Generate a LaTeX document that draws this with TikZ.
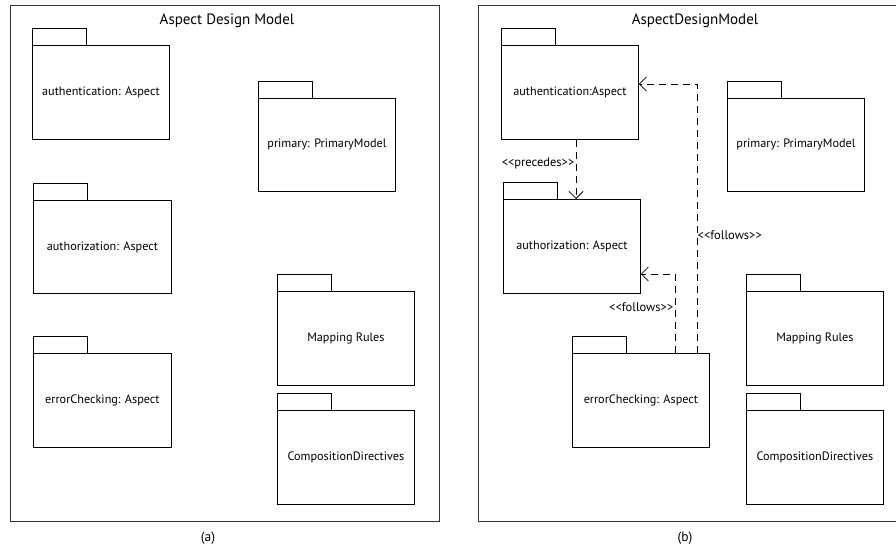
\documentclass[tikz,border=0pt]{standalone}
\usepackage{fontspec}
\setmainfont{PT Sans}[Ligatures=TeXOff]
\usetikzlibrary{arrows.meta}
\newcommand\pkgbox[6]{%
  \node[pkg, minimum width=#4pt, minimum height=#5pt] (#1) at (#2,#3) {#6};
  \draw[pkgline] (#1.north west) rectangle ++(54,-17);}
\begin{document}
\begin{tikzpicture}[x=1pt,y=-1pt,
  pkg/.style={draw, line width=0.8pt, inner sep=0pt, anchor=north west, font=\fontsize{12.2}{14}\selectfont},
  pkgline/.style={draw, line width=0.8pt},
  frame/.style={draw, line width=1pt, color=black!80, inner sep=0pt, anchor=north west},
  title/.style={font=\fontsize{15}{17}\selectfont, inner sep=0pt},
  dep/.style={draw, line width=0.8pt, dash pattern=on 7pt off 5pt, -{Straight Barb[length=7pt,width=14pt,line width=0.8pt]}},
  lbl/.style={font=\fontsize{12.5}{14}\selectfont, inner sep=0.5pt},
  captext/.style={font=\fontsize{13.5}{15}\selectfont, inner sep=0pt},
]
\useasboundingbox[fill=white] (0,0) rectangle (896,546);
% ---------- (a) ----------
\node[frame, minimum width=429.5pt, minimum height=516pt] (fa) at (9.5,5) {};
\node[title] (ta) at (227,21) {Aspect Design Model};
\pkgbox{auth1}{32}{45}{137}{94}{authentication: Aspect}
\pkgbox{prim1}{258}{98}{137}{93}{primary: PrimaryModel}
\pkgbox{authz1}{33}{200}{138}{93}{authorization: Aspect}
\pkgbox{err1}{33}{353}{138}{94}{errorChecking: Aspect}
\pkgbox{map1}{277}{291}{137}{94}{Mapping Rules}
\pkgbox{comp1}{277}{410}{137}{94}{CompositionDirectives}
\node[captext] (ca) at (208,538) {(a)};
% ---------- (b) ----------
\node[frame, minimum width=430pt, minimum height=516pt] (fb) at (478,5) {};
\node[title] (tb) at (695,21) {AspectDesignModel};
\pkgbox{auth2}{501}{45}{137}{94}{authentication:Aspect}
\pkgbox{prim2}{727}{98}{137}{93}{primary: PrimaryModel}
\pkgbox{authz2}{503}{199}{137}{94}{authorization: Aspect}
\pkgbox{err2}{572}{353}{137}{94}{errorChecking: Aspect}
\pkgbox{map2}{746}{291}{137}{94}{Mapping Rules}
\pkgbox{comp2}{746}{410}{137}{94}{CompositionDirectives}
\node[captext] (cb) at (685,538) {(b)};
% connectors
\coordinate (p1) at (576,0);
\coordinate (f1) at (697,84);
\coordinate (f2) at (675,274);
\draw[dep] (auth2.south -| p1) -- (authz2.north -| p1);
\draw[dep] (err2.north -| f1) -- (f1) -- (auth2.east |- f1);
\draw[dep] (err2.north -| f2) -- (f2) -- (authz2.east |- f2);
\node[lbl, anchor=east] (lp) at (575,163) {<<precedes>>};
\node[lbl, anchor=west] (lf1) at (697,235) {<<follows>>};
\node[lbl, anchor=east] (lf2) at (674,307) {<<follows>>};
\end{tikzpicture}
\end{document}
